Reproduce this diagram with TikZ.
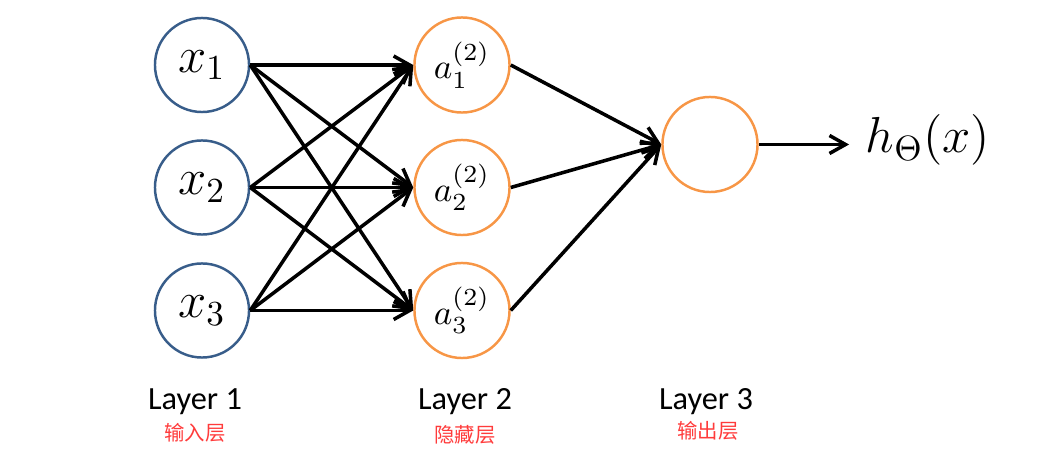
\documentclass[tikz,border=0pt]{standalone}
\usepackage{fontspec}
\setsansfont{Carlito}
\newfontfamily\cjk{Noto Sans CJK SC}
\usetikzlibrary{arrows.meta}
\definecolor{bleuentree}{HTML}{385D8A}
\definecolor{orangeneurone}{HTML}{F79646}
\definecolor{rougecouche}{HTML}{FF3B3B}
\begin{document}
\begin{tikzpicture}[x=0.01cm,y=-0.01cm]
		\tikzstyle{fleche}=[-{Straight Barb[length=0.16cm,width=0.18cm]},line width=1pt]
		\tikzstyle{entree}=[circle,draw=bleuentree,line width=0.7pt,minimum size=0.94cm,inner sep=0pt,font=\fontsize{14}{16}\selectfont]
		\tikzstyle{neurone}=[circle,draw=orangeneurone,line width=0.7pt,minimum size=0.95cm,inner sep=0pt,font=\fontsize{10}{12}\selectfont]
		\tikzstyle{sortie}=[inner sep=0pt,font=\fontsize{14}{16}\selectfont]
		\tikzstyle{couche}=[anchor=base,font=\sffamily\fontsize{9.2}{11}\selectfont]
		\tikzstyle{nomcouche}=[anchor=base,text=rougecouche,font=\cjk\fontsize{5.8}{7}\selectfont]
		
		\def\NiveauA{202}
		\def\NiveauB{462}
		\def\NiveauC{710}
		\def\LigneA{65}
		\def\LigneB{187.5}
		\def\LigneC{310.5}
		
		\useasboundingbox (0,0) rectangle (1062,467);
		
		% entrees
		\node[entree] (X1) at (\NiveauA,\LigneA) {$x_1$};
		\node[entree] (X2) at (\NiveauA,\LigneB) {$x_2$};
		\node[entree] (X3) at (\NiveauA,\LigneC) {$x_3$};
		% couche cachee
		\node[neurone] (A1) at (\NiveauB,\LigneA) {$a_1^{(2)}$};
		\node[neurone] (A2) at (\NiveauB,\LigneB) {$a_2^{(2)}$};
		\node[neurone] (A3) at (\NiveauB,\LigneC) {$a_3^{(2)}$};
		% sortie
		\node[neurone] (S) at (\NiveauC,144.5) {};
		\node[sortie] (H) at (928,140) {$h_\Theta(x)$};
		
		\node[couche] (C1) at (195,410) {Layer 1};
		\node[couche] (C2) at (465,410) {Layer 2};
		\node[couche] (C3) at (706,410) {Layer 3};
		\node[nomcouche] (N1) at (195,441) {输入层};
		\node[nomcouche] (N2) at (465,443) {隐藏层};
		\node[nomcouche] (N3) at (708,439) {输出层};
		
		\draw[fleche] (X1.east)--(A1.west);
		\draw[fleche] (X1.east)--(A2.west);
		\draw[fleche] (X1.east)--(A3.west);
		\draw[fleche] (X2.east)--(A1.west);
		\draw[fleche] (X2.east)--(A2.west);
		\draw[fleche] (X2.east)--(A3.west);
		\draw[fleche] (X3.east)--(A1.west);
		\draw[fleche] (X3.east)--(A2.west);
		\draw[fleche] (X3.east)--(A3.west);
		\draw[fleche] (A1.east)--(S.west);
		\draw[fleche] (A2.east)--(S.west);
		\draw[fleche] (A3.east)--(S.west);
		\draw[fleche,shorten >=0.16cm] (S.east)--(S.east-|H.west);
	\end{tikzpicture}
\end{document}
